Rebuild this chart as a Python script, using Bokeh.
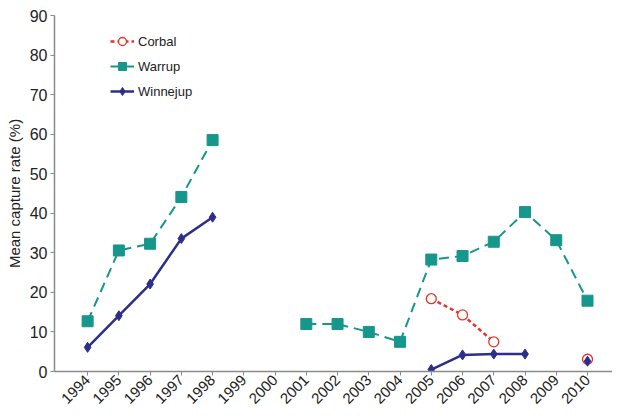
import math
import numpy as np
from bokeh.plotting import figure
from bokeh.models import Range1d, FixedTicker, Legend, LegendItem
from bokeh.embed import file_html
from bokeh.resources import INLINE

nan = float("nan")
years = list(range(1994, 2011))
year_labels = [str(y) for y in years]
corbal = [nan, nan, nan, nan, nan, nan, nan, nan, nan, nan, nan, 18.4, 14.3, 7.5, nan, nan, 3.1]
warrup = [12.7, 30.6, 32.3, 44.1, 58.5, nan, nan, 12.0, 12.0, 10.0, 7.5, 28.3, 29.2, 32.8, 40.3, 33.2, 17.9]
winnejup = [6.1, 14.1, 22.1, 33.6, 39.0, nan, nan, nan, nan, nan, nan, 0.5, 4.2, 4.4, 4.4, nan, 2.6]
y_ticks = [0, 10, 20, 30, 40, 50, 60, 70, 80, 90]

RED = "#e8322b"
TEAL = "#17968c"
NAVY = "#2c2e8c"
FONT = "Liberation Sans"

p = figure(width=612, height=412, output_backend="svg", toolbar_location=None,
           x_range=Range1d(1992.94, 2010.8), y_range=Range1d(0, 90),
           min_border_left=54, min_border_top=15, min_border_right=0, min_border_bottom=41)
p.outline_line_color = None
p.xgrid.visible = False
p.ygrid.visible = False

cl = p.line(years, corbal, line_color=RED, line_width=2.5, line_dash="4 3")
cs = p.scatter(years, corbal, marker="circle", size=10, fill_color="white",
               line_color=RED, line_width=1.3)
wl = p.line(years, warrup, line_color=TEAL, line_width=2, line_dash="10 6")
ws = p.scatter(years, warrup, marker="square", size=11, fill_color=TEAL, line_color=TEAL)
nl = p.line(years, winnejup, line_color=NAVY, line_width=2.5)
ns = p.scatter(years, winnejup, marker="diamond", size=10, fill_color=NAVY, line_color=NAVY)

legend = Legend(items=[
    LegendItem(label="Corbal", renderers=[cl, cs]),
    LegendItem(label="Warrup", renderers=[wl, ws]),
    LegendItem(label="Winnejup", renderers=[nl, ns]),
], location=(56, 270))
legend.border_line_color = None
legend.background_fill_alpha = 0
legend.label_text_font = FONT
legend.label_text_font_size = "13px"
legend.label_text_color = "#222222"
legend.glyph_width = 24
legend.label_standoff = 4
legend.spacing = 5
legend.padding = 4
p.add_layout(legend)

p.xaxis.ticker = FixedTicker(ticks=years)
p.xaxis.major_label_overrides = {y: s for y, s in zip(years, year_labels)}
p.xaxis.major_label_orientation = math.pi / 4
p.yaxis.ticker = FixedTicker(ticks=y_ticks)
p.yaxis.axis_label = "Mean capture rate (%)"

for ax in (p.xaxis, p.yaxis):
    ax.axis_line_color = "#8a8a8a"
    ax.axis_line_width = 1.5
    ax.major_tick_line_color = "#8a8a8a"
    ax.major_tick_in = 0
    ax.major_tick_out = 4
    ax.minor_tick_line_color = None
    ax.major_label_text_font = FONT
    ax.major_label_text_color = "#222222"
    ax.axis_label_text_font = FONT
    ax.axis_label_text_font_style = "normal"
    ax.axis_label_text_color = "#222222"
    ax.axis_label_text_font_size = "15px"
p.yaxis.major_label_text_font_size = "16px"
p.xaxis.major_label_text_font_size = "15px"
p.yaxis.major_label_standoff = 3
p.xaxis.major_label_standoff = 2
p.yaxis.axis_label_standoff = 4

open("out.html", "w").write(file_html(p, INLINE))
